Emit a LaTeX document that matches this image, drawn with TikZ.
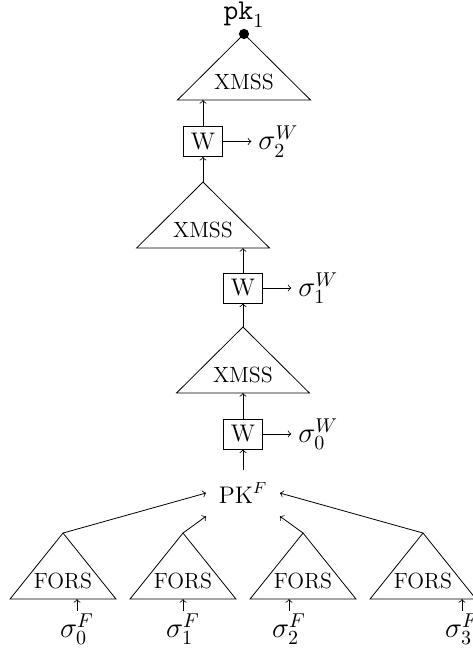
\documentclass[tikz,border=0pt]{standalone}
\usepackage{amsmath, amssymb}
\usepackage{tikz}
\usetikzlibrary{calc, arrows.meta, positioning}
\usepackage{xcolor}

\tikzset{
  wbox/.style={draw, font=\large, minimum width=0.685cm, minimum height=0.527cm, inner sep=2pt},
  siglabel/.style={font=\Large},
  treelabel/.style={font=\fontsize{11}{13}\selectfont},
}

\begin{document}
\begin{tikzpicture}[>=to]
    \useasboundingbox (0,0) rectangle (8.31,-11.508);
    % XMSS layers
    \begin{scope}[shift={(4.287,-0.597)}]
      \draw (0,0) -- (-1.168,-1.16) -- (1.168,-1.16) -- cycle;
      \node[treelabel] (xmss2) at (0,-0.843) {XMSS};
      \coordinate (xmss2b) at (0,-1.16);
      \node[circle, fill, inner sep=0pt, minimum size=0.18cm] (pk) at (0,0) {};
      \node[above=-0.02cm of pk, inner sep=1pt, font=\Large] (pkone) {$\mathtt{pk}_1$};
    \end{scope}
    \begin{scope}[shift={(3.567,-3.198)}]
      \draw (0,0) -- (-1.168,-1.16) -- (1.168,-1.16) -- cycle;
      \node[treelabel] (xmss1) at (0,-0.843) {XMSS};
      \coordinate (xmss1t) at (0,0);
      \coordinate (xmss1b) at (0,-1.16);
    \end{scope}
    \begin{scope}[shift={(4.269,-5.745)}]
      \draw (0,0) -- (-1.168,-1.16) -- (1.168,-1.16) -- cycle;
      \node[treelabel] (xmss0) at (0,-0.843) {XMSS};
      \coordinate (xmss0t) at (0,0);
      \coordinate (xmss0b) at (0,-1.16);
    \end{scope}

    \node[wbox] (w2) at (3.567,-2.486) {W};
    \node[wbox] (w1) at (4.269,-5.060) {W};
    \node[wbox] (w0) at (4.269,-7.625) {W};
    \node[siglabel, right=0.5cm of w2] (sw2) {$\sigma_2^W$};
    \node[siglabel, right=0.5cm of w1] (sw1) {$\sigma_1^W$};
    \node[siglabel, right=0.5cm of w0] (sw0) {$\sigma_0^W$};
    \draw[->] (w2) -- (sw2);
    \draw[->] (w1) -- (sw1);
    \draw[->] (w0) -- (sw0);

    \draw[->] (w2.north) -- (w2.north |- xmss2b);
    \draw[->] (xmss1t) -- (w2.south);
    \draw[->] (w1.north) -- (w1.north |- xmss1b);
    \draw[->] (xmss0t) -- (w1.south);
    \draw[->] (w0.north) -- (w0.north |- xmss0b);

    \node[outer sep=3pt, font=\large] (pkf) at (4.269,-8.662) {$\mathrm{PK}^F$};
    \draw[->] (pkf.north) -- (w0.south);

    % FORS layer
    \begin{scope}[shift={(1.107,-9.365)}]
      \draw (0,0) -- (-0.931,-1.16) -- (0.931,-1.16) -- cycle;
      \node[treelabel] (fors0) at (0,-0.843) {FORS};
      \coordinate (fors0t) at (0,0);
      \coordinate (fors0b) at (0,-1.16);
    \end{scope}
    \begin{scope}[shift={(3.215,-9.365)}]
      \draw (0,0) -- (-0.931,-1.16) -- (0.931,-1.16) -- cycle;
      \node[treelabel] (fors1) at (0,-0.843) {FORS};
      \coordinate (fors1t) at (0,0);
      \coordinate (fors1b) at (0,-1.16);
    \end{scope}
    \begin{scope}[shift={(5.324,-9.365)}]
      \draw (0,0) -- (-0.931,-1.16) -- (0.931,-1.16) -- cycle;
      \node[treelabel] (fors2) at (0,-0.843) {FORS};
      \coordinate (fors2t) at (0,0);
      \coordinate (fors2b) at (0,-1.16);
    \end{scope}
    \begin{scope}[shift={(7.432,-9.365)}]
      \draw (0,0) -- (-0.931,-1.16) -- (0.931,-1.16) -- cycle;
      \node[treelabel] (fors3) at (0,-0.843) {FORS};
      \coordinate (fors3t) at (0,0);
      \coordinate (fors3b) at (0,-1.16);
    \end{scope}

    \draw[->] (fors0t) -- (pkf.west);
    \draw[->] (fors1t) -- (pkf.south west);
    \draw[->] (fors2t) -- (pkf.south east);
    \draw[->] (fors3t) -- (pkf.east);

    \node[siglabel, inner sep=1pt] (sf0) at (1.353,-11.051) {$\sigma_0^F$};
    \node[siglabel, inner sep=1pt] (sf1) at (3.215,-11.051) {$\sigma_1^F$};
    \node[siglabel, inner sep=1pt] (sf2) at (5.078,-11.051) {$\sigma_2^F$};
    \node[siglabel, inner sep=1pt] (sf3) at (8.117,-11.051) {$\sigma_3^F$};
    \draw[->] (sf0.north) -- (sf0.north |- fors0b);
    \draw[->] (sf1.north) -- (sf1.north |- fors1b);
    \draw[->] (sf2.north) -- (sf2.north |- fors2b);
    \draw[->] (sf3.north) -- (sf3.north |- fors3b);
  \end{tikzpicture}
\end{document}
